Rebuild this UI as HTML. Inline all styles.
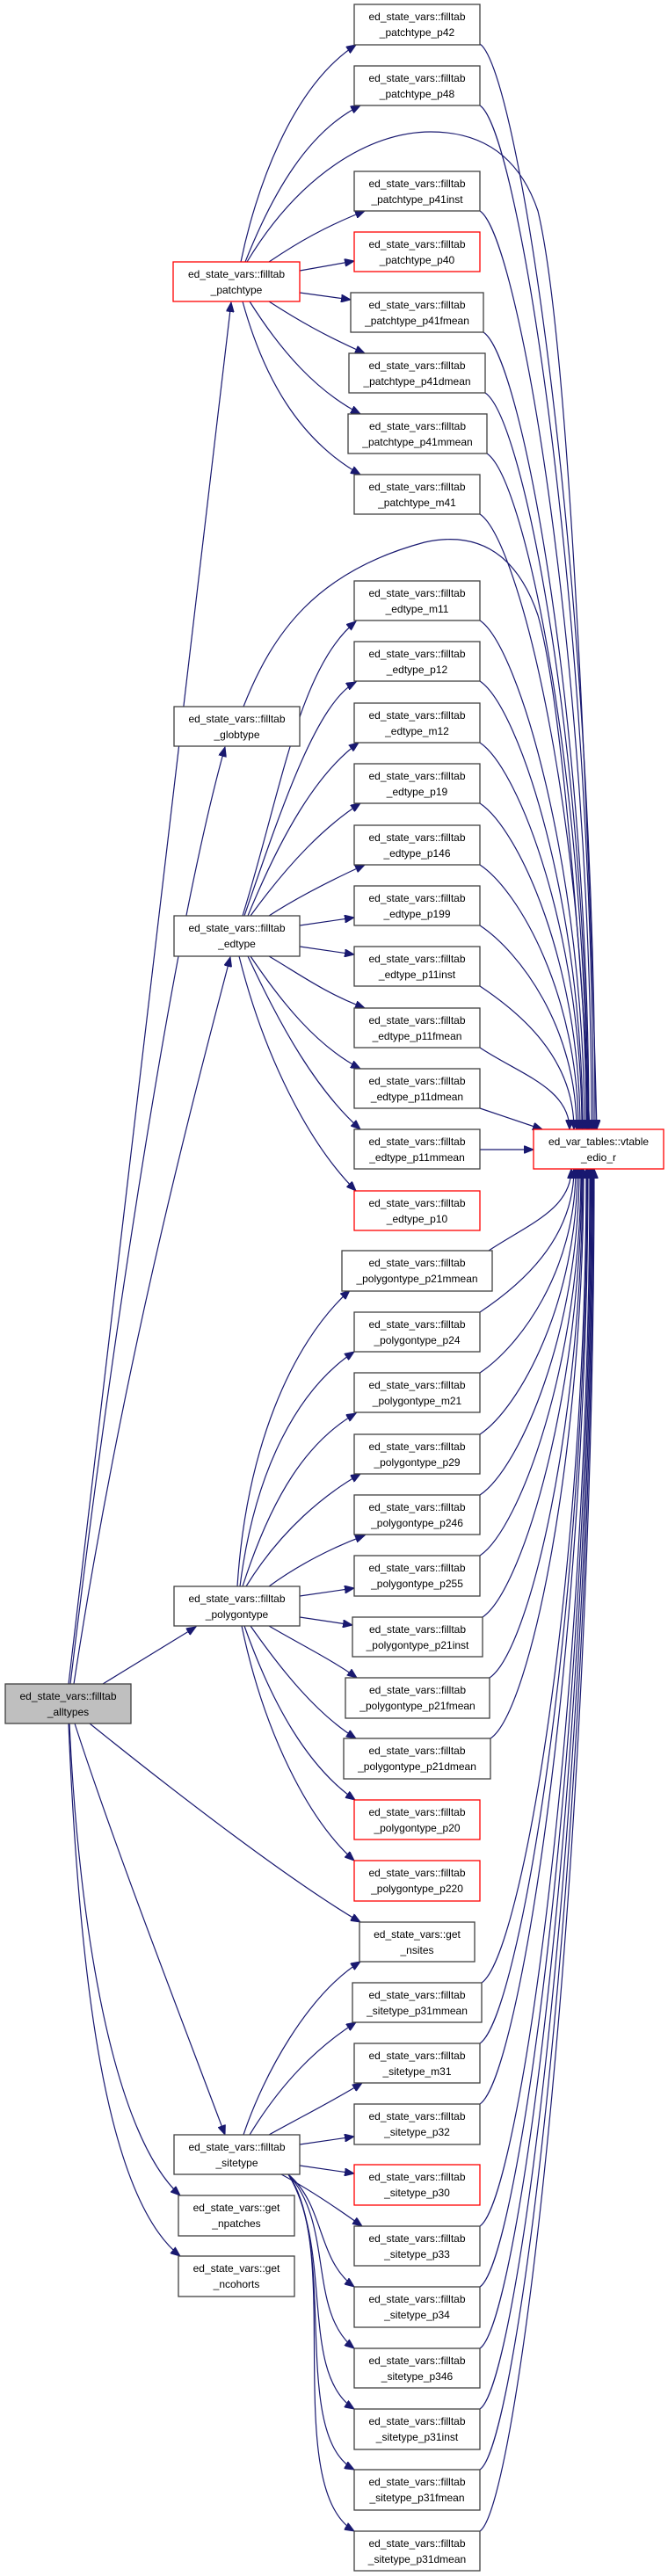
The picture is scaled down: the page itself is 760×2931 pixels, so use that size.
<!DOCTYPE html>
<html><head><meta charset="utf-8"><style>
html,body{margin:0;padding:0;background:#fff;}
svg{display:block;}
text{font-family:"Liberation Sans",sans-serif;font-size:12px;fill:#000;text-anchor:middle;}
.e{fill:none;stroke:#191970;stroke-width:1.2;marker-end:url(#a);}
.n{fill:#fff;stroke:#404040;stroke-width:1.3;}
.r{fill:#fff;stroke:#ff0000;stroke-width:1.3;}
.g{fill:#bfbfbf;stroke:#404040;stroke-width:1.3;}
</style></head><body>
<svg width="760" height="2931" viewBox="0 0 760 2931" xmlns="http://www.w3.org/2000/svg">
<defs><marker id="a" markerUnits="userSpaceOnUse" markerWidth="12" markerHeight="9" refX="11" refY="4.5" orient="auto"><path d="M0,0 L11,4.5 L0,9 z" fill="#191970" stroke="#191970"/></marker></defs>

<!-- edges: patchtype -->
<path class="e" d="M78,1916 L263,344"/>
<path class="e" d="M274,298 C290,220 330,100 405,51"/>
<path class="e" d="M279,298 C310,220 350,150 410,120"/>
<path class="e" d="M281,298 C340,200 420,150 490,150 C560,150 595,190 612,240 C650,400 672,1000 679,1285"/>
<path class="e" d="M306,298 C340,275 370,258 415,240"/>
<path class="e" d="M341,308 L403,297"/>
<path class="e" d="M341,333 L399,341"/>
<path class="e" d="M306,343 C340,365 370,382 415,402"/>
<path class="e" d="M284,343 C320,400 360,445 410,471"/>
<path class="e" d="M276,343 C300,430 340,500 410,540"/>

<!-- globtype / edtype -->
<path class="e" d="M80,1916 C130,1500 200,1050 256,850"/>
<path class="e" d="M277,804 C310,720 360,650 483,617 C560,600 595,650 612,700 C640,800 662,1100 671,1285"/>
<path class="e" d="M84,1916 C140,1550 220,1250 262,1089"/>
<path class="e" d="M276,1042 C320,900 340,760 405,707"/>
<path class="e" d="M278,1042 C320,920 360,800 405,776"/>
<path class="e" d="M282,1042 C320,950 360,880 408,845"/>
<path class="e" d="M285,1042 C330,980 370,940 410,914"/>
<path class="e" d="M306,1042 C340,1020 380,1000 415,984"/>
<path class="e" d="M341,1053 L403,1044"/>
<path class="e" d="M341,1077 L403,1086"/>
<path class="e" d="M306,1088 C340,1108 370,1130 415,1147"/>
<path class="e" d="M285,1088 C320,1140 360,1190 410,1216"/>
<path class="e" d="M282,1088 C320,1170 360,1240 410,1285"/>
<path class="e" d="M272,1088 C300,1200 350,1300 405,1355"/>
<path class="e" d="M546,1308 L607,1308"/>
<path class="e" d="M546,1261 L617,1285"/>

<!-- polygontype -->
<path class="e" d="M117,1916 L223,1851"/>
<path class="e" d="M270,1805 C280,1650 330,1530 398,1468"/>
<path class="e" d="M273,1805 C290,1670 340,1580 403,1538"/>
<path class="e" d="M276,1805 C310,1700 350,1640 405,1608"/>
<path class="e" d="M280,1805 C320,1740 370,1700 410,1677"/>
<path class="e" d="M306,1805 C340,1780 380,1760 415,1747"/>
<path class="e" d="M341,1816 L403,1807"/>
<path class="e" d="M341,1840 L401,1849"/>
<path class="e" d="M306,1850 C340,1870 380,1890 406,1909"/>
<path class="e" d="M285,1850 C320,1900 360,1950 405,1978"/>
<path class="e" d="M278,1850 C310,1940 350,2010 404,2048"/>
<path class="e" d="M275,1850 C300,1970 350,2070 403,2117"/>

<!-- alltypes others -->
<path class="e" d="M102,1961 C200,2040 330,2140 410,2187"/>
<path class="e" d="M85,1961 C130,2100 200,2280 256,2429"/>
<path class="e" d="M79,1961 C90,2200 130,2430 205,2498"/>
<path class="e" d="M78,1961 C90,2250 120,2500 205,2567"/>

<!-- sitetype -->
<path class="e" d="M277,2429 C300,2360 350,2270 410,2232"/>
<path class="e" d="M284,2429 C320,2370 360,2330 405,2301"/>
<path class="e" d="M306,2429 C340,2410 380,2390 412,2370"/>
<path class="e" d="M341,2440 L403,2431"/>
<path class="e" d="M341,2464 L403,2473"/>
<path class="e" d="M320,2474 C350,2490 380,2510 412,2533"/>
<path class="e" d="M328,2474 C370,2510 360,2570 403,2602"/>
<path class="e" d="M328,2474 C380,2530 350,2630 403,2672"/>
<path class="e" d="M328,2474 C380,2560 340,2700 403,2741"/>
<path class="e" d="M328,2474 C385,2560 330,2770 403,2810"/>
<path class="e" d="M328,2474 C390,2560 320,2830 403,2880"/>

<!-- to vtable from above -->
<path class="e" d="M546,50 C591,80 677,667 677,1285"/>
<path class="e" d="M546,120 C591,150 675,702 675,1285"/>
<path class="e" d="M546,240 C591,270 673,762 673,1285"/>
<path class="e" d="M550,378 C595,408 670,831 670,1285"/>
<path class="e" d="M552,447 C597,477 669,866 669,1285"/>
<path class="e" d="M554,516 C599,546 668,900 668,1285"/>
<path class="e" d="M546,585 C591,615 667,935 667,1285"/>
<path class="e" d="M546,706 C591,736 665,995 665,1285"/>
<path class="e" d="M546,775 C591,805 663,1030 663,1285"/>
<path class="e" d="M546,845 C591,875 662,1065 662,1285"/>
<path class="e" d="M546,914 C591,944 660,1099 660,1285"/>
<path class="e" d="M546,984 C591,1014 658,1134 658,1285"/>
<path class="e" d="M546,1053 C591,1083 656,1169 656,1285"/>
<path class="e" d="M546,1122 C591,1152 653,1203 653,1285"/>
<path class="e" d="M546,1192 C591,1222 648,1238 648,1285"/>
<!-- to vtable from below -->
<path class="e" d="M556,1423 C601,1393 650,1376 650,1330"/>
<path class="e" d="M546,1493 C591,1463 653,1411 653,1330"/>
<path class="e" d="M546,1562 C591,1532 655,1446 655,1330"/>
<path class="e" d="M546,1632 C591,1602 657,1481 657,1330"/>
<path class="e" d="M546,1701 C591,1671 659,1515 659,1330"/>
<path class="e" d="M546,1770 C591,1740 661,1550 661,1330"/>
<path class="e" d="M549,1840 C594,1810 662,1585 662,1330"/>
<path class="e" d="M557,1909 C602,1879 663,1619 663,1330"/>
<path class="e" d="M558,1978 C603,1948 664,1654 664,1330"/>
<path class="e" d="M548,2256 C593,2226 667,1793 667,1330"/>
<path class="e" d="M546,2325 C591,2295 668,1827 668,1330"/>
<path class="e" d="M546,2394 C591,2364 669,1862 669,1330"/>
<path class="e" d="M546,2533 C591,2503 671,1931 671,1330"/>
<path class="e" d="M546,2602 C591,2572 672,1966 672,1330"/>
<path class="e" d="M546,2672 C591,2642 673,2001 673,1330"/>
<path class="e" d="M546,2741 C591,2711 674,2035 674,1330"/>
<path class="e" d="M546,2810 C591,2780 675,2070 675,1330"/>
<path class="e" d="M546,2880 C591,2850 676,2105 676,1330"/>

<!-- nodes -->
<g><rect class="r" x="197" y="298" width="144" height="45"/><text x="269" y="316">ed_state_vars::filltab</text><text x="269" y="334">_patchtype</text></g>
<g><rect class="n" x="198" y="804" width="143" height="45"/><text x="269.5" y="822">ed_state_vars::filltab</text><text x="269.5" y="840">_globtype</text></g>
<g><rect class="n" x="198" y="1042" width="143" height="46"/><text x="269.5" y="1060">ed_state_vars::filltab</text><text x="269.5" y="1078">_edtype</text></g>
<g><rect class="n" x="198" y="1805" width="143" height="45"/><text x="269.5" y="1823">ed_state_vars::filltab</text><text x="269.5" y="1841">_polygontype</text></g>
<g><rect class="g" x="6" y="1916" width="143" height="45"/><text x="77.5" y="1934">ed_state_vars::filltab</text><text x="77.5" y="1952">_alltypes</text></g>
<g><rect class="n" x="198" y="2429" width="143" height="45"/><text x="269.5" y="2447">ed_state_vars::filltab</text><text x="269.5" y="2465">_sitetype</text></g>
<g><rect class="n" x="203" y="2498" width="132" height="46"/><text x="269" y="2516">ed_state_vars::get</text><text x="269" y="2534">_npatches</text></g>
<g><rect class="n" x="203" y="2567" width="132" height="46"/><text x="269" y="2585">ed_state_vars::get</text><text x="269" y="2603">_ncohorts</text></g>
<g><rect class="r" x="607" y="1285" width="148" height="45"/><text x="681" y="1303">ed_var_tables::vtable</text><text x="681" y="1321">_edio_r</text></g>

<g><rect class="n" x="403" y="5" width="143" height="46"/><text x="474.5" y="23">ed_state_vars::filltab</text><text x="474.5" y="41">_patchtype_p42</text></g>
<g><rect class="n" x="403" y="75" width="143" height="45"/><text x="474.5" y="93">ed_state_vars::filltab</text><text x="474.5" y="111">_patchtype_p48</text></g>
<g><rect class="n" x="403" y="195" width="143" height="45"/><text x="474.5" y="213">ed_state_vars::filltab</text><text x="474.5" y="231">_patchtype_p41inst</text></g>
<g><rect class="r" x="403" y="264" width="143" height="45"/><text x="474.5" y="282">ed_state_vars::filltab</text><text x="474.5" y="300">_patchtype_p40</text></g>
<g><rect class="n" x="399" y="333" width="151" height="45"/><text x="474.5" y="351">ed_state_vars::filltab</text><text x="474.5" y="369">_patchtype_p41fmean</text></g>
<g><rect class="n" x="397" y="402" width="155" height="45"/><text x="474.5" y="420">ed_state_vars::filltab</text><text x="474.5" y="438">_patchtype_p41dmean</text></g>
<g><rect class="n" x="396" y="471" width="158" height="45"/><text x="475" y="489">ed_state_vars::filltab</text><text x="475" y="507">_patchtype_p41mmean</text></g>
<g><rect class="n" x="403" y="540" width="143" height="45"/><text x="474.5" y="558">ed_state_vars::filltab</text><text x="474.5" y="576">_patchtype_m41</text></g>

<g><rect class="n" x="403" y="661" width="143" height="45"/><text x="474.5" y="679">ed_state_vars::filltab</text><text x="474.5" y="697">_edtype_m11</text></g>
<g><rect class="n" x="403" y="730" width="143" height="45"/><text x="474.5" y="748">ed_state_vars::filltab</text><text x="474.5" y="766">_edtype_p12</text></g>
<g><rect class="n" x="403" y="800" width="143" height="45"/><text x="474.5" y="818">ed_state_vars::filltab</text><text x="474.5" y="836">_edtype_m12</text></g>
<g><rect class="n" x="403" y="869" width="143" height="45"/><text x="474.5" y="887">ed_state_vars::filltab</text><text x="474.5" y="905">_edtype_p19</text></g>
<g><rect class="n" x="403" y="939" width="143" height="45"/><text x="474.5" y="957">ed_state_vars::filltab</text><text x="474.5" y="975">_edtype_p146</text></g>
<g><rect class="n" x="403" y="1008" width="143" height="45"/><text x="474.5" y="1026">ed_state_vars::filltab</text><text x="474.5" y="1044">_edtype_p199</text></g>
<g><rect class="n" x="403" y="1077" width="143" height="45"/><text x="474.5" y="1095">ed_state_vars::filltab</text><text x="474.5" y="1113">_edtype_p11inst</text></g>
<g><rect class="n" x="403" y="1147" width="143" height="45"/><text x="474.5" y="1165">ed_state_vars::filltab</text><text x="474.5" y="1183">_edtype_p11fmean</text></g>
<g><rect class="n" x="403" y="1216" width="143" height="45"/><text x="474.5" y="1234">ed_state_vars::filltab</text><text x="474.5" y="1252">_edtype_p11dmean</text></g>
<g><rect class="n" x="403" y="1285" width="143" height="45"/><text x="474.5" y="1303">ed_state_vars::filltab</text><text x="474.5" y="1321">_edtype_p11mmean</text></g>
<g><rect class="r" x="403" y="1355" width="143" height="45"/><text x="474.5" y="1373">ed_state_vars::filltab</text><text x="474.5" y="1391">_edtype_p10</text></g>

<g><rect class="n" x="389" y="1423" width="171" height="46"/><text x="474.5" y="1441">ed_state_vars::filltab</text><text x="474.5" y="1459">_polygontype_p21mmean</text></g>
<g><rect class="n" x="403" y="1493" width="143" height="45"/><text x="474.5" y="1511">ed_state_vars::filltab</text><text x="474.5" y="1529">_polygontype_p24</text></g>
<g><rect class="n" x="403" y="1562" width="143" height="45"/><text x="474.5" y="1580">ed_state_vars::filltab</text><text x="474.5" y="1598">_polygontype_m21</text></g>
<g><rect class="n" x="403" y="1632" width="143" height="45"/><text x="474.5" y="1650">ed_state_vars::filltab</text><text x="474.5" y="1668">_polygontype_p29</text></g>
<g><rect class="n" x="403" y="1701" width="143" height="45"/><text x="474.5" y="1719">ed_state_vars::filltab</text><text x="474.5" y="1737">_polygontype_p246</text></g>
<g><rect class="n" x="403" y="1770" width="143" height="46"/><text x="474.5" y="1788">ed_state_vars::filltab</text><text x="474.5" y="1806">_polygontype_p255</text></g>
<g><rect class="n" x="401" y="1840" width="148" height="45"/><text x="475" y="1858">ed_state_vars::filltab</text><text x="475" y="1876">_polygontype_p21inst</text></g>
<g><rect class="n" x="393" y="1909" width="164" height="46"/><text x="475" y="1927">ed_state_vars::filltab</text><text x="475" y="1945">_polygontype_p21fmean</text></g>
<g><rect class="n" x="391" y="1978" width="167" height="46"/><text x="474.5" y="1996">ed_state_vars::filltab</text><text x="474.5" y="2014">_polygontype_p21dmean</text></g>
<g><rect class="r" x="403" y="2048" width="143" height="45"/><text x="474.5" y="2066">ed_state_vars::filltab</text><text x="474.5" y="2084">_polygontype_p20</text></g>
<g><rect class="r" x="403" y="2117" width="143" height="46"/><text x="474.5" y="2135">ed_state_vars::filltab</text><text x="474.5" y="2153">_polygontype_p220</text></g>

<g><rect class="n" x="409" y="2187" width="131" height="45"/><text x="474.5" y="2205">ed_state_vars::get</text><text x="474.5" y="2223">_nsites</text></g>
<g><rect class="n" x="401" y="2256" width="147" height="45"/><text x="474.5" y="2274">ed_state_vars::filltab</text><text x="474.5" y="2292">_sitetype_p31mmean</text></g>
<g><rect class="n" x="403" y="2325" width="143" height="45"/><text x="474.5" y="2343">ed_state_vars::filltab</text><text x="474.5" y="2361">_sitetype_m31</text></g>
<g><rect class="n" x="403" y="2394" width="143" height="46"/><text x="474.5" y="2412">ed_state_vars::filltab</text><text x="474.5" y="2430">_sitetype_p32</text></g>
<g><rect class="r" x="403" y="2463" width="143" height="46"/><text x="474.5" y="2481">ed_state_vars::filltab</text><text x="474.5" y="2499">_sitetype_p30</text></g>
<g><rect class="n" x="403" y="2533" width="143" height="45"/><text x="474.5" y="2551">ed_state_vars::filltab</text><text x="474.5" y="2569">_sitetype_p33</text></g>
<g><rect class="n" x="403" y="2602" width="143" height="46"/><text x="474.5" y="2620">ed_state_vars::filltab</text><text x="474.5" y="2638">_sitetype_p34</text></g>
<g><rect class="n" x="403" y="2672" width="143" height="45"/><text x="474.5" y="2690">ed_state_vars::filltab</text><text x="474.5" y="2708">_sitetype_p346</text></g>
<g><rect class="n" x="403" y="2741" width="143" height="46"/><text x="474.5" y="2759">ed_state_vars::filltab</text><text x="474.5" y="2777">_sitetype_p31inst</text></g>
<g><rect class="n" x="403" y="2810" width="143" height="46"/><text x="474.5" y="2828">ed_state_vars::filltab</text><text x="474.5" y="2846">_sitetype_p31fmean</text></g>
<g><rect class="n" x="403" y="2880" width="143" height="45"/><text x="474.5" y="2898">ed_state_vars::filltab</text><text x="474.5" y="2916">_sitetype_p31dmean</text></g>
</svg>
</body></html>
